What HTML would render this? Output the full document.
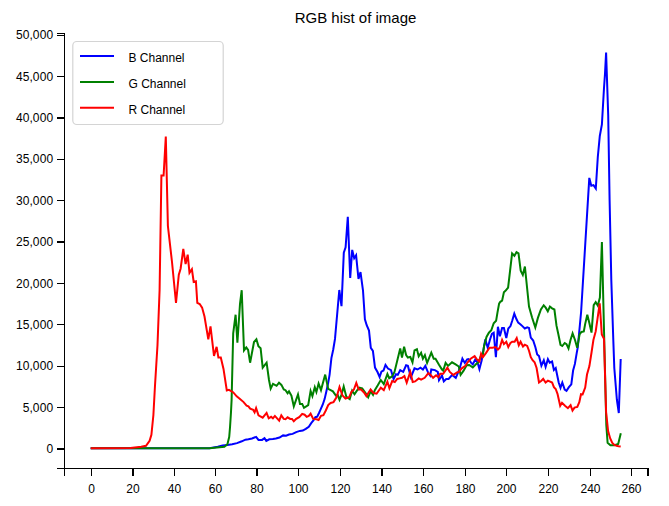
<!DOCTYPE html>
<html><head><meta charset="utf-8"><style>
html,body{margin:0;padding:0;background:#fff;width:669px;height:506px;overflow:hidden}
svg{display:block;font-family:"Liberation Sans",Arial,sans-serif}
</style></head><body>
<svg width="669" height="506" viewBox="0 0 669 506">
<text x="355.5" y="22.8" text-anchor="middle" font-size="15" fill="#000">RGB hist of image</text>
<rect x="64" y="33" width="1" height="443" fill="#000"/>
<rect x="57" y="33" width="7" height="1" fill="#000"/>
<rect x="57" y="468" width="592" height="1" fill="#000"/>
<rect x="647" y="468" width="2" height="8" fill="#000"/>
<rect x="57" y="448" width="7" height="2" fill="#000"/>
<text x="53.2" y="452.90" text-anchor="end" font-size="12" letter-spacing="0.1">0</text>
<rect x="57" y="407" width="7" height="1" fill="#000"/>
<text x="53.2" y="411.55" text-anchor="end" font-size="12" letter-spacing="0.1">5,000</text>
<rect x="57" y="366" width="7" height="1" fill="#000"/>
<text x="53.2" y="370.20" text-anchor="end" font-size="12" letter-spacing="0.1">10,000</text>
<rect x="57" y="324" width="7" height="1" fill="#000"/>
<text x="53.2" y="328.85" text-anchor="end" font-size="12" letter-spacing="0.1">15,000</text>
<rect x="57" y="283" width="7" height="1" fill="#000"/>
<text x="53.2" y="287.50" text-anchor="end" font-size="12" letter-spacing="0.1">20,000</text>
<rect x="57" y="241" width="7" height="2" fill="#000"/>
<text x="53.2" y="246.15" text-anchor="end" font-size="12" letter-spacing="0.1">25,000</text>
<rect x="57" y="200" width="7" height="1" fill="#000"/>
<text x="53.2" y="204.80" text-anchor="end" font-size="12" letter-spacing="0.1">30,000</text>
<rect x="57" y="159" width="7" height="1" fill="#000"/>
<text x="53.2" y="163.45" text-anchor="end" font-size="12" letter-spacing="0.1">35,000</text>
<rect x="57" y="117" width="7" height="2" fill="#000"/>
<text x="53.2" y="122.10" text-anchor="end" font-size="12" letter-spacing="0.1">40,000</text>
<rect x="57" y="76" width="7" height="1" fill="#000"/>
<text x="53.2" y="80.75" text-anchor="end" font-size="12" letter-spacing="0.1">45,000</text>
<rect x="57" y="35" width="7" height="1" fill="#000"/>
<text x="53.2" y="39.40" text-anchor="end" font-size="12" letter-spacing="0.1">50,000</text>
<rect x="91" y="469" width="1" height="7" fill="#000"/>
<text x="91.50" y="493" text-anchor="middle" font-size="12">0</text>
<rect x="132" y="469" width="2" height="7" fill="#000"/>
<text x="133.00" y="493" text-anchor="middle" font-size="12">20</text>
<rect x="174" y="469" width="1" height="7" fill="#000"/>
<text x="174.50" y="493" text-anchor="middle" font-size="12">40</text>
<rect x="215" y="469" width="1" height="7" fill="#000"/>
<text x="215.50" y="493" text-anchor="middle" font-size="12">60</text>
<rect x="256" y="469" width="2" height="7" fill="#000"/>
<text x="257.00" y="493" text-anchor="middle" font-size="12">80</text>
<rect x="298" y="469" width="1" height="7" fill="#000"/>
<text x="298.50" y="493" text-anchor="middle" font-size="12">100</text>
<rect x="340" y="469" width="1" height="7" fill="#000"/>
<text x="340.50" y="493" text-anchor="middle" font-size="12">120</text>
<rect x="381" y="469" width="2" height="7" fill="#000"/>
<text x="382.00" y="493" text-anchor="middle" font-size="12">140</text>
<rect x="423" y="469" width="1" height="7" fill="#000"/>
<text x="423.50" y="493" text-anchor="middle" font-size="12">160</text>
<rect x="465" y="469" width="1" height="7" fill="#000"/>
<text x="465.50" y="493" text-anchor="middle" font-size="12">180</text>
<rect x="506" y="469" width="1" height="7" fill="#000"/>
<text x="506.50" y="493" text-anchor="middle" font-size="12">200</text>
<rect x="548" y="469" width="1" height="7" fill="#000"/>
<text x="548.50" y="493" text-anchor="middle" font-size="12">220</text>
<rect x="590" y="469" width="1" height="7" fill="#000"/>
<text x="590.50" y="493" text-anchor="middle" font-size="12">240</text>
<rect x="631" y="469" width="1" height="7" fill="#000"/>
<text x="631.50" y="493" text-anchor="middle" font-size="12">260</text>
<path d="M90.7,448.2 L209.5,448.2 L217.8,446.7 L222.6,445.5 L227.4,444.9 L232.2,444.3 L237.0,443.1 L241.8,441.3 L245.4,439.7 L248.4,439.3 L252.0,438.5 L256.1,436.9 L258.5,439.9 L262.1,439.9 L264.5,438.1 L266.3,440.9 L269.3,439.3 L272.9,439.1 L275.9,438.5 L279.5,437.5 L283.1,435.4 L286.1,435.7 L289.0,434.5 L292.6,433.9 L296.2,432.1 L299.8,430.9 L302.8,430.6 L305.8,428.9 L308.8,426.7 L311.2,423.2 L313.6,420.2 L315.4,417.2 L317.2,416.6 L319.0,413.0 L320.4,409.9 L322.8,404.5 L324.6,399.1 L326.4,391.3 L328.2,382.9 L329.6,374.6 L331.4,358.1 L333.2,349.7 L335.0,338.9 L339.3,290.0 L341.5,306.1 L343.8,252.8 L345.6,247.4 L347.8,216.8 L350.2,278.0 L352.2,249.9 L354.2,258.3 L356.1,255.3 L358.5,279.0 L360.5,272.1 L363.0,290.5 L364.9,319.2 L366.7,325.2 L369.0,330.6 L370.8,347.9 L372.9,350.9 L375.0,367.6 L377.5,372.0 L379.6,377.0 L381.4,371.6 L383.5,370.5 L385.5,365.0 L388.0,368.5 L391.0,370.2 L393.6,379.0 L396.0,374.3 L397.8,374.9 L400.2,370.1 L403.2,371.9 L406.1,365.3 L407.9,365.9 L410.9,377.2 L414.5,368.3 L417.5,369.5 L420.5,367.7 L422.9,369.5 L425.3,365.9 L428.3,373.1 L430.1,375.5 L431.3,369.5 L434.9,370.1 L437.8,371.9 L439.0,380.2 L442.0,375.5 L443.8,381.4 L446.2,379.0 L448.6,379.0 L452.2,374.9 L455.8,377.8 L459.4,369.5 L462.4,358.7 L464.8,362.9 L467.2,359.3 L468.6,359.0 L471.0,362.6 L472.8,364.4 L475.2,359.6 L477.6,362.6 L479.4,369.2 L481.7,360.2 L483.5,349.5 L485.3,339.3 L487.7,347.7 L490.1,339.3 L491.9,333.9 L493.7,332.7 L495.9,357.2 L497.9,326.7 L499.9,336.3 L502.1,327.9 L503.9,327.9 L506.3,338.1 L508.3,328.5 L510.5,326.1 L512.2,320.8 L514.3,313.6 L516.4,319.0 L518.2,322.6 L520.6,324.4 L522.4,326.1 L524.8,328.5 L527.2,327.3 L529.0,328.0 L530.8,337.6 L533.2,340.5 L535.4,347.2 L537.2,354.4 L539.0,356.1 L541.4,365.7 L543.8,360.3 L545.6,366.9 L547.9,359.1 L549.7,362.7 L552.1,361.5 L553.9,369.9 L555.7,368.1 L558.7,382.5 L560.5,387.8 L562.3,382.5 L564.7,389.6 L566.5,390.8 L568.9,387.2 L571.3,384.3 L573.1,370.5 L574.9,363.9 L576.7,353.2 L577.8,347.2 L581.1,312.0 L589.3,177.9 L591.3,185.7 L593.5,185.1 L595.8,188.5 L597.8,157.0 L599.8,136.0 L601.9,124.5 L604.0,88.0 L605.0,73.7 L606.1,52.5 L608.2,115.0 L609.6,200.0 L611.3,280.0 L613.3,340.0 L614.3,368.0 L616.9,400.0 L618.8,413.0 L620.7,359.0" fill="none" stroke="#0000ff" stroke-width="2"/>
<path d="M90.7,448.2 L209.5,448.2 L224.4,446.7 L227.4,444.3 L229.2,437.1 L230.0,427.5 L231.0,412.0 L231.6,400.0 L233.2,333.3 L235.6,314.7 L237.4,342.8 L240.0,303.9 L241.7,290.2 L244.0,350.4 L246.3,347.4 L248.1,349.8 L250.1,362.7 L254.0,342.0 L256.4,339.3 L258.4,346.1 L260.6,348.2 L262.7,367.7 L266.6,362.7 L269.0,380.0 L270.7,388.6 L273.0,383.8 L276.6,385.8 L279.0,382.7 L281.4,384.9 L283.8,389.4 L285.5,390.2 L287.6,393.2 L289.0,391.4 L291.4,395.6 L293.8,406.3 L298.0,394.4 L300.0,403.9 L302.2,403.9 L304.0,407.8 L308.2,405.1 L310.6,391.0 L312.4,396.1 L314.8,387.2 L316.4,392.0 L318.6,383.5 L321.0,390.1 L325.2,374.6 L328.2,388.9 L330.6,390.1 L332.9,391.3 L335.9,395.5 L337.7,394.9 L339.5,399.7 L341.3,395.5 L343.7,386.5 L346.3,396.7 L349.7,399.1 L352.1,390.7 L354.5,394.3 L356.9,390.7 L359.3,387.7 L362.2,388.3 L365.2,392.5 L368.2,397.3 L370.6,391.3 L373.0,394.9 L374.8,390.1 L377.8,385.3 L380.8,380.0 L383.8,384.1 L387.4,374.0 L389.2,378.2 L392.2,376.4 L394.5,372.0 L400.2,348.5 L402.0,357.5 L404.1,346.7 L406.1,355.1 L407.9,357.5 L410.3,356.9 L412.5,362.3 L414.5,350.3 L416.9,349.1 L418.7,356.3 L421.1,352.7 L422.9,358.7 L424.9,355.1 L427.1,362.9 L431.3,352.7 L433.7,358.7 L435.5,358.7 L439.0,364.7 L442.0,369.5 L443.2,370.7 L445.6,362.9 L448.0,365.9 L452.0,362.3 L455.2,364.1 L458.8,366.5 L460.6,374.9 L463.6,370.7 L466.6,365.3 L469.2,365.0 L472.8,367.4 L476.4,363.8 L478.2,362.6 L480.6,356.7 L482.9,354.3 L484.1,345.9 L486.5,336.9 L488.9,332.7 L491.3,330.3 L493.7,323.2 L496.1,320.8 L497.5,312.4 L499.1,303.6 L500.3,301.8 L502.1,300.6 L503.9,292.2 L505.7,290.5 L508.1,287.5 L512.1,253.4 L514.4,255.8 L516.5,252.2 L518.5,253.4 L520.7,270.7 L522.8,274.9 L524.9,266.5 L529.0,306.5 L532.0,317.3 L535.3,327.5 L537.9,317.9 L540.9,309.5 L543.7,305.3 L545.7,307.7 L547.8,311.3 L549.9,306.5 L552.1,308.3 L554.4,309.5 L556.5,325.7 L558.3,334.0 L560.5,344.8 L562.3,346.0 L564.7,343.0 L566.5,344.2 L568.5,348.5 L570.5,340.0 L572.6,333.4 L575.0,340.0 L577.2,347.8 L579.6,334.4 L581.4,332.0 L583.8,331.4 L585.2,323.9 L587.3,314.7 L589.4,323.3 L591.5,332.6 L593.7,305.1 L595.7,302.1 L597.8,305.7 L599.9,297.5 L601.9,242.1 L604.0,330.0 L606.3,425.0 L607.6,442.8 L610.4,445.2 L614.6,445.2 L618.2,444.0 L620.8,433.3" fill="none" stroke="#008000" stroke-width="2"/>
<path d="M90.7,448.2 L130.5,448.0 L141.2,446.7 L146.0,445.8 L149.6,440.8 L151.4,434.8 L153.4,415.0 L155.0,385.5 L157.5,345.0 L159.6,290.0 L161.4,175.5 L163.6,175.5 L165.8,136.6 L167.9,226.0 L172.0,262.0 L176.0,303.0 L178.8,274.7 L180.6,268.7 L183.3,249.0 L185.6,264.0 L187.7,254.7 L189.5,272.9 L191.9,269.3 L193.7,281.9 L195.9,281.3 L197.3,302.8 L199.7,304.0 L202.1,307.6 L204.5,316.5 L208.3,339.3 L210.5,326.3 L214.0,356.0 L216.6,346.8 L218.4,357.6 L220.8,357.6 L223.5,368.9 L226.8,390.5 L228.9,389.9 L233.1,392.2 L236.7,396.4 L239.7,398.8 L243.6,402.1 L246.6,405.7 L248.4,406.3 L250.2,408.7 L253.2,409.9 L254.6,412.3 L256.1,408.1 L258.5,415.3 L262.7,417.7 L266.6,412.9 L268.7,418.3 L271.1,416.8 L272.9,418.3 L274.9,415.9 L277.1,418.3 L279.2,420.7 L281.3,415.3 L283.7,418.9 L285.5,419.2 L287.6,417.3 L290.2,418.9 L292.0,418.9 L293.8,421.3 L296.2,418.9 L299.2,417.1 L302.2,413.9 L304.6,414.7 L306.7,416.8 L308.8,415.9 L310.6,413.7 L313.2,418.9 L316.6,419.2 L318.6,420.0 L321.0,415.8 L323.4,415.2 L325.8,410.5 L328.2,405.1 L330.6,403.0 L333.5,402.1 L336.5,397.3 L339.5,387.1 L342.5,395.5 L345.5,398.5 L349.1,397.3 L351.5,391.9 L353.9,389.5 L356.3,382.9 L358.7,389.5 L361.1,389.5 L364.0,392.5 L366.4,396.1 L370.6,389.5 L373.6,393.1 L376.6,393.7 L380.8,387.7 L383.8,390.1 L387.4,381.7 L389.4,388.3 L392.2,381.1 L394.8,382.0 L397.2,379.0 L399.6,378.4 L402.0,377.8 L404.4,376.0 L406.7,382.6 L410.3,371.9 L412.7,382.0 L415.1,381.4 L418.7,378.4 L421.1,379.6 L424.7,377.8 L428.3,373.1 L430.7,374.9 L433.1,377.8 L436.1,375.2 L438.4,377.2 L440.2,373.7 L443.2,373.7 L447.4,367.7 L449.8,371.9 L453.4,374.9 L457.0,372.5 L458.8,371.9 L461.8,368.3 L465.4,365.9 L467.4,362.6 L471.0,358.4 L474.6,356.1 L477.0,359.6 L479.4,361.4 L481.1,353.7 L482.9,357.2 L485.9,353.1 L489.5,347.7 L492.5,347.7 L495.5,347.1 L497.9,349.5 L499.7,347.7 L502.1,339.9 L503.9,344.1 L506.3,341.7 L508.3,347.1 L510.5,342.9 L512.2,341.7 L514.6,341.7 L516.7,338.1 L518.8,345.3 L520.6,341.7 L523.0,346.5 L524.8,344.7 L527.2,345.9 L529.0,350.7 L530.8,357.2 L532.6,360.2 L534.6,362.2 L536.6,368.0 L539.0,382.5 L541.4,380.7 L543.2,378.9 L545.6,382.5 L547.9,380.7 L552.1,382.5 L553.9,387.2 L555.7,389.0 L557.5,393.8 L560.2,405.8 L562.0,402.8 L565.0,405.8 L567.9,408.2 L570.6,405.2 L572.5,410.6 L574.5,407.6 L577.3,407.0 L579.3,402.2 L581.0,394.2 L582.6,394.4 L585.2,387.6 L587.0,374.5 L589.4,366.1 L591.6,352.0 L593.4,340.0 L595.7,331.4 L599.7,303.3 L601.8,334.4 L604.0,338.8 L606.1,412.0 L608.1,431.0 L610.2,438.5 L612.3,443.0 L614.4,445.0 L616.5,445.8 L618.6,446.2 L620.7,446.4" fill="none" stroke="#ff0000" stroke-width="2"/>
<rect x="72.8" y="41.5" width="150.4" height="83" rx="4" ry="4" fill="#fff" fill-opacity="0.9" stroke="#d4d4d4" stroke-width="1.2"/>
<line x1="80" x2="114" y1="56.0" y2="56.0" stroke="#0000ff" stroke-width="2"/>
<text x="128.5" y="62.0" font-size="12">B Channel</text>
<line x1="80" x2="114" y1="81.9" y2="81.9" stroke="#008000" stroke-width="2"/>
<text x="128.5" y="87.9" font-size="12">G Channel</text>
<line x1="80" x2="114" y1="107.8" y2="107.8" stroke="#ff0000" stroke-width="2"/>
<text x="128.5" y="113.8" font-size="12">R Channel</text>
</svg>
</body></html>
